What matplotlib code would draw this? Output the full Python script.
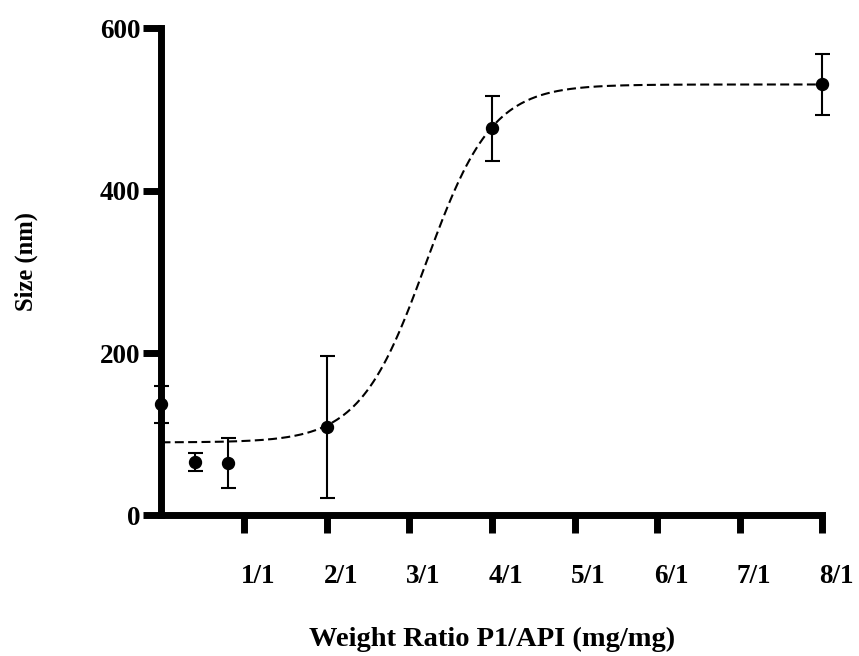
import numpy as np
import matplotlib
matplotlib.use("Agg")
import matplotlib.pyplot as plt
from matplotlib.transforms import ScaledTranslation

# measured sizes (mean +/- error) at each weight ratio
ratio = [0.0, 0.4, 0.8, 2.0, 4.0, 8.0]
size_nm = [137, 66, 65, 109, 477, 531]
size_err = [23, 11, 31, 87, 40, 37]

# sigmoid fit
fit_bottom = 90
fit_top = 531
fit_x50 = 3.2
fit_slope = 0.4

xtick_pos = [1, 2, 3, 4, 5, 6, 7, 8]
xtick_labels = ["1/1", "2/1", "3/1", "4/1", "5/1", "6/1", "7/1", "8/1"]
ytick_pos = [0, 200, 400, 600]

plt.rcParams["font.family"] = ["Liberation Serif", "DejaVu Serif"]
plt.rcParams["font.weight"] = "bold"

fig = plt.figure(figsize=(8.59, 6.56), dpi=100)
ax = fig.add_axes([0.188, 0.2142, 0.7695, 0.7424])

xf = np.linspace(0, 8, 400)
yf = fit_bottom + (fit_top - fit_bottom) / (1 + np.exp((fit_x50 - xf) / fit_slope))
ax.plot(xf, yf, color="black", lw=1.5, ls=(0, (4.3, 2.1)), clip_on=False, zorder=2)

ax.errorbar(ratio, size_nm, yerr=size_err, fmt="o", color="black", ms=8.6,
            elinewidth=1.5, capsize=5.4, capthick=1.5, clip_on=False, zorder=5)

ax.set_xlim(0, 8)
ax.set_ylim(0, 600)
ax.set_xticks(xtick_pos)
ax.set_xticklabels(xtick_labels)
ax.set_yticks(ytick_pos)

for side in ["top", "right"]:
    ax.spines[side].set_visible(False)
for side in ["left", "bottom"]:
    ax.spines[side].set_linewidth(5)

ax.tick_params(axis="both", length=13.3, width=5, labelsize=19.5)
ax.tick_params(axis="x", pad=21.5)
ax.tick_params(axis="y", pad=2)

# labels sit a little right of their ticks in the original
shift = ScaledTranslation(14 / 100, 0, fig.dpi_scale_trans)
for lab in ax.get_xticklabels():
    lab.set_transform(lab.get_transform() + shift)

fig.text(0.5728, 0.016, "Weight Ratio P1/API (mg/mg)", ha="center", va="baseline",
         fontsize=20.5, fontweight="bold")
fig.text(0.031, 0.602, "Size (nm)", ha="center", va="center", rotation=90,
         fontsize=17.7, fontweight="bold")

fig.savefig("out.png", dpi=100)
